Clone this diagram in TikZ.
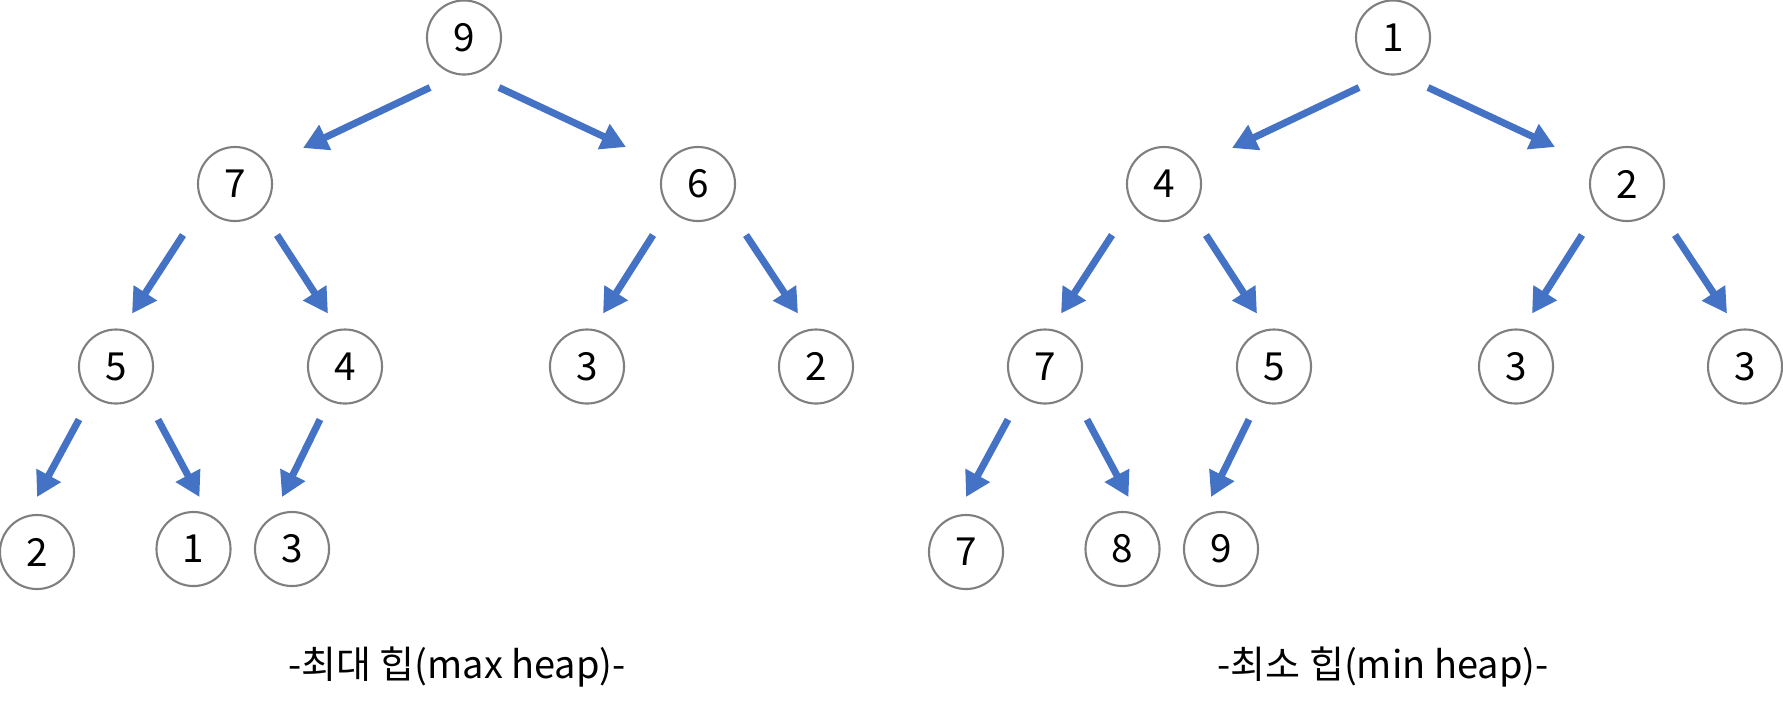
\documentclass[tikz,border=0pt]{standalone}
\usepackage{fontspec}
\setmainfont{Noto Sans CJK KR}
\usetikzlibrary{arrows.meta,calc}
\definecolor{arrowblue}{HTML}{4472C4}
\definecolor{ringgray}{HTML}{7F7F7F}
\tikzset{
  key/.style={circle,draw=ringgray,line width=0.6pt,minimum size=0.74cm,inner sep=0pt,font=\fontsize{11}{13}\selectfont},
  heaparrow/.style={draw=arrowblue,line width=2pt,-{Triangle[length=7pt,width=7.5pt]}},
  caption/.style={font=\fontsize{10.8}{13}\selectfont}
}
\begin{document}
\begin{tikzpicture}[x=0.01cm,y=-0.01cm]
\useasboundingbox (0,0) rectangle (1783,711);
% max heap
\node[key] (x1) at (464,37.5) {9};
\node[key] (x2) at (235,184) {7};
\node[key] (x3) at (698,184) {6};
\node[key] (x4) at (116,366.5) {5};
\node[key] (x5) at (345,366.5) {4};
\node[key] (x6) at (587,366.5) {3};
\node[key] (x7) at (816,366.5) {2};
\node[key] (x8) at (37,552) {2};
\node[key] (x9) at (193.5,549) {1};
\node[key] (x10) at (292,549) {3};
\draw[heaparrow] ($(x1)+(-34,50)$) -- ($(x2)+(68,-36)$);
\draw[heaparrow] ($(x1)+(35,50)$) -- ($(x3)+(-72,-37)$);
\draw[heaparrow] ($(x2)+(-52,51)$) -- ($(x4)+(16,-53)$);
\draw[heaparrow] ($(x2)+(42,51)$) -- ($(x5)+(-17,-53)$);
\draw[heaparrow] ($(x3)+(-45,51)$) -- ($(x6)+(16,-53)$);
\draw[heaparrow] ($(x3)+(48,51)$) -- ($(x7)+(-18,-53)$);
\draw[heaparrow] ($(x4)+(-37,53)$) -- ($(x8)+(0,-55)$);
\draw[heaparrow] ($(x4)+(42,53)$) -- ($(x9)+(6,-52)$);
\draw[heaparrow] ($(x5)+(-25,53)$) -- ($(x10)+(-10,-52)$);
\node[caption] (maxcap) at (457,667) {-최대 힙(max heap)-};
% min heap
\node[key] (n1) at (1393,37.5) {1};
\node[key] (n2) at (1164,184) {4};
\node[key] (n3) at (1627,184) {2};
\node[key] (n4) at (1045,366.5) {7};
\node[key] (n5) at (1274,366.5) {5};
\node[key] (n6) at (1516,366.5) {3};
\node[key] (n7) at (1745,366.5) {3};
\node[key] (n8) at (966,552) {7};
\node[key] (n9) at (1122.5,549) {8};
\node[key] (n10) at (1221,549) {9};
\draw[heaparrow] ($(n1)+(-34,50)$) -- ($(n2)+(68,-36)$);
\draw[heaparrow] ($(n1)+(35,50)$) -- ($(n3)+(-72,-37)$);
\draw[heaparrow] ($(n2)+(-52,51)$) -- ($(n4)+(16,-53)$);
\draw[heaparrow] ($(n2)+(42,51)$) -- ($(n5)+(-17,-53)$);
\draw[heaparrow] ($(n3)+(-45,51)$) -- ($(n6)+(16,-53)$);
\draw[heaparrow] ($(n3)+(48,51)$) -- ($(n7)+(-18,-53)$);
\draw[heaparrow] ($(n4)+(-37,53)$) -- ($(n8)+(0,-55)$);
\draw[heaparrow] ($(n4)+(42,53)$) -- ($(n9)+(6,-52)$);
\draw[heaparrow] ($(n5)+(-25,53)$) -- ($(n10)+(-10,-52)$);
\node[caption] (mincap) at (1383,667) {-최소 힙(min heap)-};
\end{tikzpicture}
\end{document}
